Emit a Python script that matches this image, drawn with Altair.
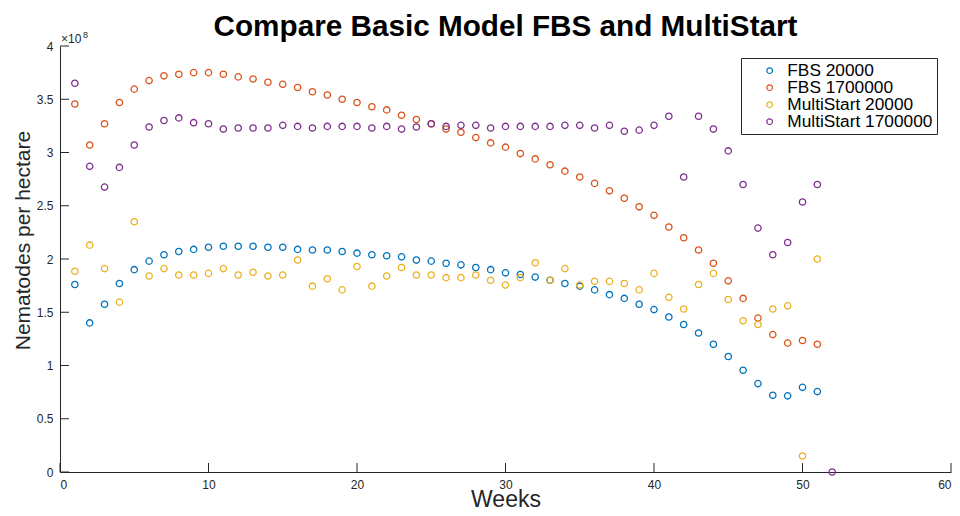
import altair as alt
import pandas as pd

# values in units of 1e8 nematodes per hectare
weeks = list(range(1, 52))
fbs_20000 = [1.76, 1.40, 1.575, 1.77, 1.90, 1.98, 2.04, 2.07, 2.09, 2.11,
             2.12, 2.12, 2.12, 2.11, 2.11, 2.09, 2.085, 2.085, 2.07, 2.055,
             2.04, 2.03, 2.02, 1.99, 1.98, 1.96, 1.945, 1.92, 1.90, 1.87,
             1.855, 1.83, 1.80, 1.77, 1.745, 1.71, 1.665, 1.63, 1.575, 1.525,
             1.455, 1.385, 1.305, 1.20, 1.085, 0.955, 0.83, 0.72, 0.715, 0.795,
             0.755]
fbs_1700000 = [3.455, 3.07, 3.27, 3.47, 3.595, 3.675, 3.72, 3.735, 3.75, 3.75,
               3.735, 3.71, 3.69, 3.66, 3.64, 3.61, 3.57, 3.54, 3.50, 3.47,
               3.43, 3.40, 3.35, 3.31, 3.27, 3.22, 3.19, 3.14, 3.09, 3.05,
               2.99, 2.94, 2.885, 2.825, 2.77, 2.71, 2.64, 2.57, 2.49, 2.41,
               2.30, 2.20, 2.085, 1.96, 1.795, 1.63, 1.445, 1.29, 1.21, 1.235,
               1.20]
ms_20000 = [1.885, 2.13, 1.91, 1.595, 2.35, 1.84, 1.91, 1.85, 1.85, 1.865,
            1.91, 1.85, 1.875, 1.84, 1.85, 1.99, 1.745, 1.815, 1.71, 1.93,
            1.745, 1.84, 1.92, 1.85, 1.85, 1.825, 1.825, 1.85, 1.80, 1.755,
            1.825, 1.965, 1.80, 1.91, 1.755, 1.79, 1.79, 1.77, 1.71, 1.865,
            1.64, 1.53, 1.76, 1.865, 1.62, 1.42, 1.385, 1.53, 1.56, 0.15,
            2.00]
ms_weeks = list(range(1, 53))
ms_1700000 = [3.65, 2.87, 2.675, 2.86, 3.07, 3.24, 3.30, 3.325, 3.28, 3.27,
              3.22, 3.23, 3.23, 3.23, 3.255, 3.245, 3.23, 3.245, 3.245, 3.245,
              3.23, 3.245, 3.22, 3.24, 3.27, 3.245, 3.255, 3.255, 3.23, 3.245,
              3.245, 3.245, 3.245, 3.255, 3.255, 3.23, 3.255, 3.20, 3.21, 3.255,
              3.34, 2.77, 3.34, 3.22, 3.015, 2.70, 2.29, 2.04, 2.155, 2.535,
              2.70, 0.0]

series_names = ["FBS 20000", "FBS 1700000", "MultiStart 20000", "MultiStart 1700000"]
series_colors = ["#0072BD", "#D95319", "#EDB120", "#7E2F8E"]
x_ticks = [0, 10, 20, 30, 40, 50, 60]
y_ticks = [0, 0.5, 1, 1.5, 2, 2.5, 3, 3.5, 4]

rows = []
for i, (name, wk, vals) in enumerate([(series_names[0], weeks, fbs_20000),
                                      (series_names[1], weeks, fbs_1700000),
                                      (series_names[2], weeks, ms_20000),
                                      (series_names[3], ms_weeks, ms_1700000)]):
    for w, v in zip(wk, vals):
        rows.append({"week": w, "value": v, "series": name, "k": i})
df = pd.DataFrame(rows)

W, H = 891, 426
FONT = "Liberation Sans"
AX = "#262626"

xscale = alt.Scale(domain=[0, 60], nice=False, zero=False)
yscale = alt.Scale(domain=[0, 4], nice=False, zero=False)

points = alt.Chart(df).mark_point(filled=False, size=40, strokeWidth=1.3, opacity=1).encode(
    x=alt.X("week:Q", scale=xscale,
            axis=alt.Axis(values=x_ticks, title="Weeks", grid=False, ticks=False,
                          labelPadding=7, labelFontSize=12, labelFont=FONT, labelColor=AX,
                          domainColor=AX, domainWidth=1, titleFont=FONT, titleFontSize=23,
                          titleFontWeight="normal", titleColor=AX,
                          titleBaseline="alphabetic", titleY=34)),
    y=alt.Y("value:Q", scale=yscale,
            axis=alt.Axis(values=y_ticks, format=".1~f", title="Nematodes per hectare",
                          grid=False, ticks=False, labelPadding=7,
                          labelFontSize=12, labelFont=FONT, labelColor=AX,
                          domainColor=AX, domainWidth=1, titleFont=FONT, titleFontSize=21,
                          titleFontWeight="normal", titleColor=AX,
                          titleBaseline="alphabetic", titleX=-31, titleY=194)),
    color=alt.Color("series:N",
                    scale=alt.Scale(domain=series_names, range=series_colors),
                    legend=alt.Legend(title=None, orient="none", legendX=681, legendY=12,
                                      strokeColor=AX, fillColor="white", padding=4,
                                      symbolType="circle", symbolSize=32,
                                      symbolStrokeWidth=1.2, symbolOffset=16,
                                      labelOffset=9, rowPadding=-2,
                                      labelFontSize=17.3, labelFont=FONT, labelColor="black")),
    order=alt.Order("k:Q"),
)

xt = alt.Chart(pd.DataFrame({"week": x_ticks})).mark_rule(color=AX, strokeWidth=1).encode(
    x=alt.X("week:Q", scale=xscale),
    y=alt.value(H), y2=alt.value(H - 9))
yt = alt.Chart(pd.DataFrame({"value": y_ticks})).mark_rule(color=AX, strokeWidth=1).encode(
    y=alt.Y("value:Q", scale=yscale),
    x=alt.value(0), x2=alt.value(9))

expo = pd.DataFrame({"week": [0], "value": [4]})
base_txt = alt.Chart(expo).mark_text(text="\u00d710", align="left", baseline="alphabetic",
                                     dx=1, dy=-3, fontSize=12, font=FONT, color=AX).encode(
    x=alt.X("week:Q", scale=xscale), y=alt.Y("value:Q", scale=yscale))
sup_txt = alt.Chart(expo).mark_text(text="8", align="left", baseline="alphabetic",
                                    dx=23, dy=-8.5, fontSize=9, font=FONT, color=AX).encode(
    x=alt.X("week:Q", scale=xscale), y=alt.Y("value:Q", scale=yscale))

chart = alt.layer(points, xt, yt, base_txt, sup_txt).properties(
    width=W, height=H,
    title=alt.Title("Compare Basic Model FBS and MultiStart", font=FONT, fontSize=29.7,
                    fontWeight="bold", color="black", anchor="middle", frame="group",
                    baseline="alphabetic", offset=-35),
    autosize=alt.AutoSizeParams(type="none"),
    padding={"left": 52, "top": 38, "right": 1, "bottom": 36},
).configure(background="white").configure_view(stroke=None)

chart.save("out.html", embed_options={"renderer": "svg", "actions": False})
